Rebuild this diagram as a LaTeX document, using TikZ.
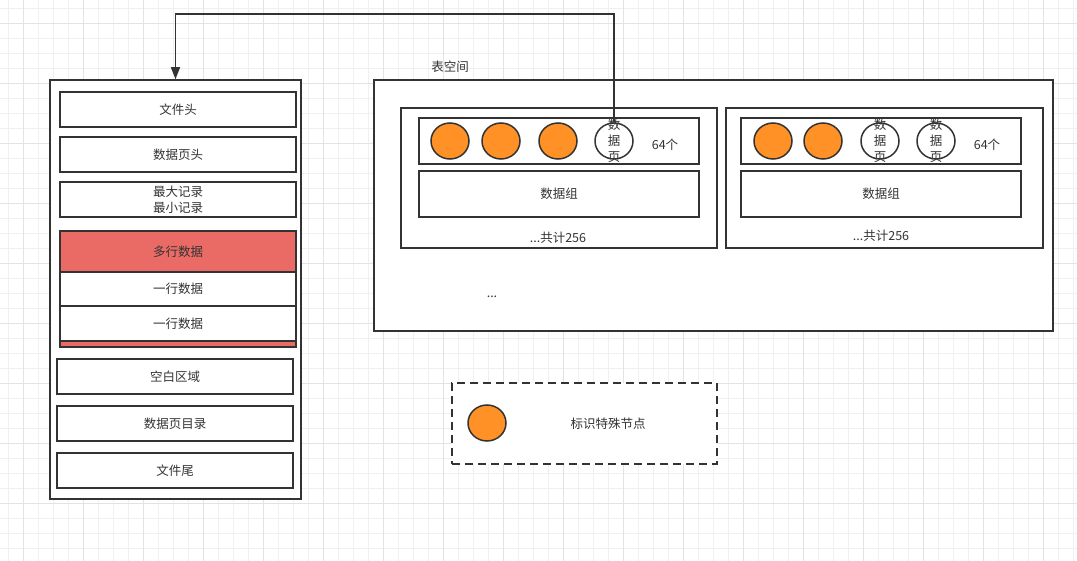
\documentclass[tikz,border=0pt]{standalone}
\usepackage{fontspec}
\setmainfont{Noto Sans CJK SC}
\usepackage{tikz}
\usetikzlibrary{arrows.meta,shapes.geometric,backgrounds}
\definecolor{inkgray}{HTML}{333333}
\definecolor{dotorange}{HTML}{FF9126}
\definecolor{rowred}{HTML}{EA6B66}
\newcommand{\boxline}{1.5pt}
\newcommand{\cellw}{236}
\tikzset{
  blk/.style={draw=inkgray, line width=\boxline, rectangle, inner sep=0pt, text=inkgray, fill=white},
  dot/.style={draw=inkgray, line width=\boxline, ellipse, inner sep=0pt, minimum width=38, minimum height=36},
  lbl/.style={text=inkgray, inner sep=0pt},
  link/.style={draw=inkgray, line width=\boxline, -{Triangle[length=12pt,width=9pt]}},
}

\begin{document}
\begin{tikzpicture}[x=1pt, y=-1pt, font=\fontsize{12.5}{16}\selectfont]
\useasboundingbox (0,0) rectangle (1077,561);
% grid
\begin{scope}[on background layer]
\fill[white] (0,0) rectangle (1077,561);
\foreach \x in {8,23,...,1077} \draw[color=black!6, line width=0.8pt] (\x,0) -- (\x,561);
\foreach \y in {8,23,...,561} \draw[color=black!6, line width=0.8pt] (0,\y) -- (1077,\y);
\foreach \x in {23,83,...,1077} \draw[color=black!11, line width=0.8pt] (\x,0) -- (\x,561);
\foreach \y in {23,83,...,561} \draw[color=black!11, line width=0.8pt] (0,\y) -- (1077,\y);
\end{scope}
% data page
\node[blk, minimum width=251, minimum height=419] (filebox) at (175.5,289.5) {};
\node[blk, minimum width=\cellw, minimum height=35] (head) at (178,109.5) {文件头};
\node[blk, minimum width=\cellw, minimum height=35] (pagehead) at (178,154.5) {数据页头};
\node[blk, minimum width=\cellw, minimum height=35, align=center] (minmax) at (178,199.5) {最大记录\\最小记录};
\node[blk, fill=rowred, minimum width=\cellw, minimum height=116] (rows) at (178,289) {};
\node[blk, fill=rowred, minimum width=\cellw, minimum height=41] (multirow) at (178,251.5) {多行数据};
\node[blk, minimum width=\cellw, minimum height=34] (row1) at (178,289) {一行数据};
\node[blk, minimum width=\cellw, minimum height=35] (row2) at (178,323.5) {一行数据};
\node[blk, minimum width=\cellw, minimum height=35] (free) at (175,376.5) {空白区域};
\node[blk, minimum width=\cellw, minimum height=35] (dir) at (175,423.5) {数据页目录};
\node[blk, minimum width=\cellw, minimum height=35] (tail) at (175,470.5) {文件尾};
% tablespace
\node[lbl] (tslabel) at (450,67) {表空间};
\node[blk, minimum width=679, minimum height=251] (tspace) at (713.5,205.5) {};
\node[blk, minimum width=316, minimum height=140] (grp1) at (559,178) {};
\node[blk, minimum width=280, minimum height=46] (pages1) at (559,141) {};
\node[blk, minimum width=280, minimum height=46] (data1) at (559,194) {数据组};
\node[lbl] (count1) at (558,238) {...共计256};
\node[dot, fill=dotorange] (p11) at (450,141) {};
\node[dot, fill=dotorange] (p12) at (501,141) {};
\node[dot, fill=dotorange] (p13) at (558,141) {};
\node[dot, fill=white] (p14) at (614,141) {};
\node[lbl, align=center] at (p14) {数\\据\\页};
\node[lbl] (num1) at (665,145) {64个};
\node[blk, minimum width=317, minimum height=140] (grp2) at (884.5,178) {};
\node[blk, minimum width=280, minimum height=46] (pages2) at (881,141) {};
\node[blk, minimum width=280, minimum height=46] (data2) at (881,194) {数据组};
\node[lbl] (count2) at (881,236) {...共计256};
\node[dot, fill=dotorange] (p21) at (773,141) {};
\node[dot, fill=dotorange] (p22) at (823,141) {};
\node[dot, fill=white] (p23) at (880,141) {};
\node[lbl, align=center] at (p23) {数\\据\\页};
\node[dot, fill=white] (p24) at (936,141) {};
\node[lbl, align=center] at (p24) {数\\据\\页};
\node[lbl] (num2) at (987,145) {64个};
\node[lbl] (more) at (492,297) {...};
% legend
\node[blk, dash pattern=on 8pt off 5pt, minimum width=265, minimum height=81] (legend) at (584.5,423.5) {};
\node[dot, fill=dotorange] (mark) at (487,423) {};
\node[lbl] (marktext) at (608,424) {标识特殊节点};
% link
\coordinate (top) at (400,14);
\draw[link] (p14.north) |- (top) -| (filebox.north);
\end{tikzpicture}
\end{document}
